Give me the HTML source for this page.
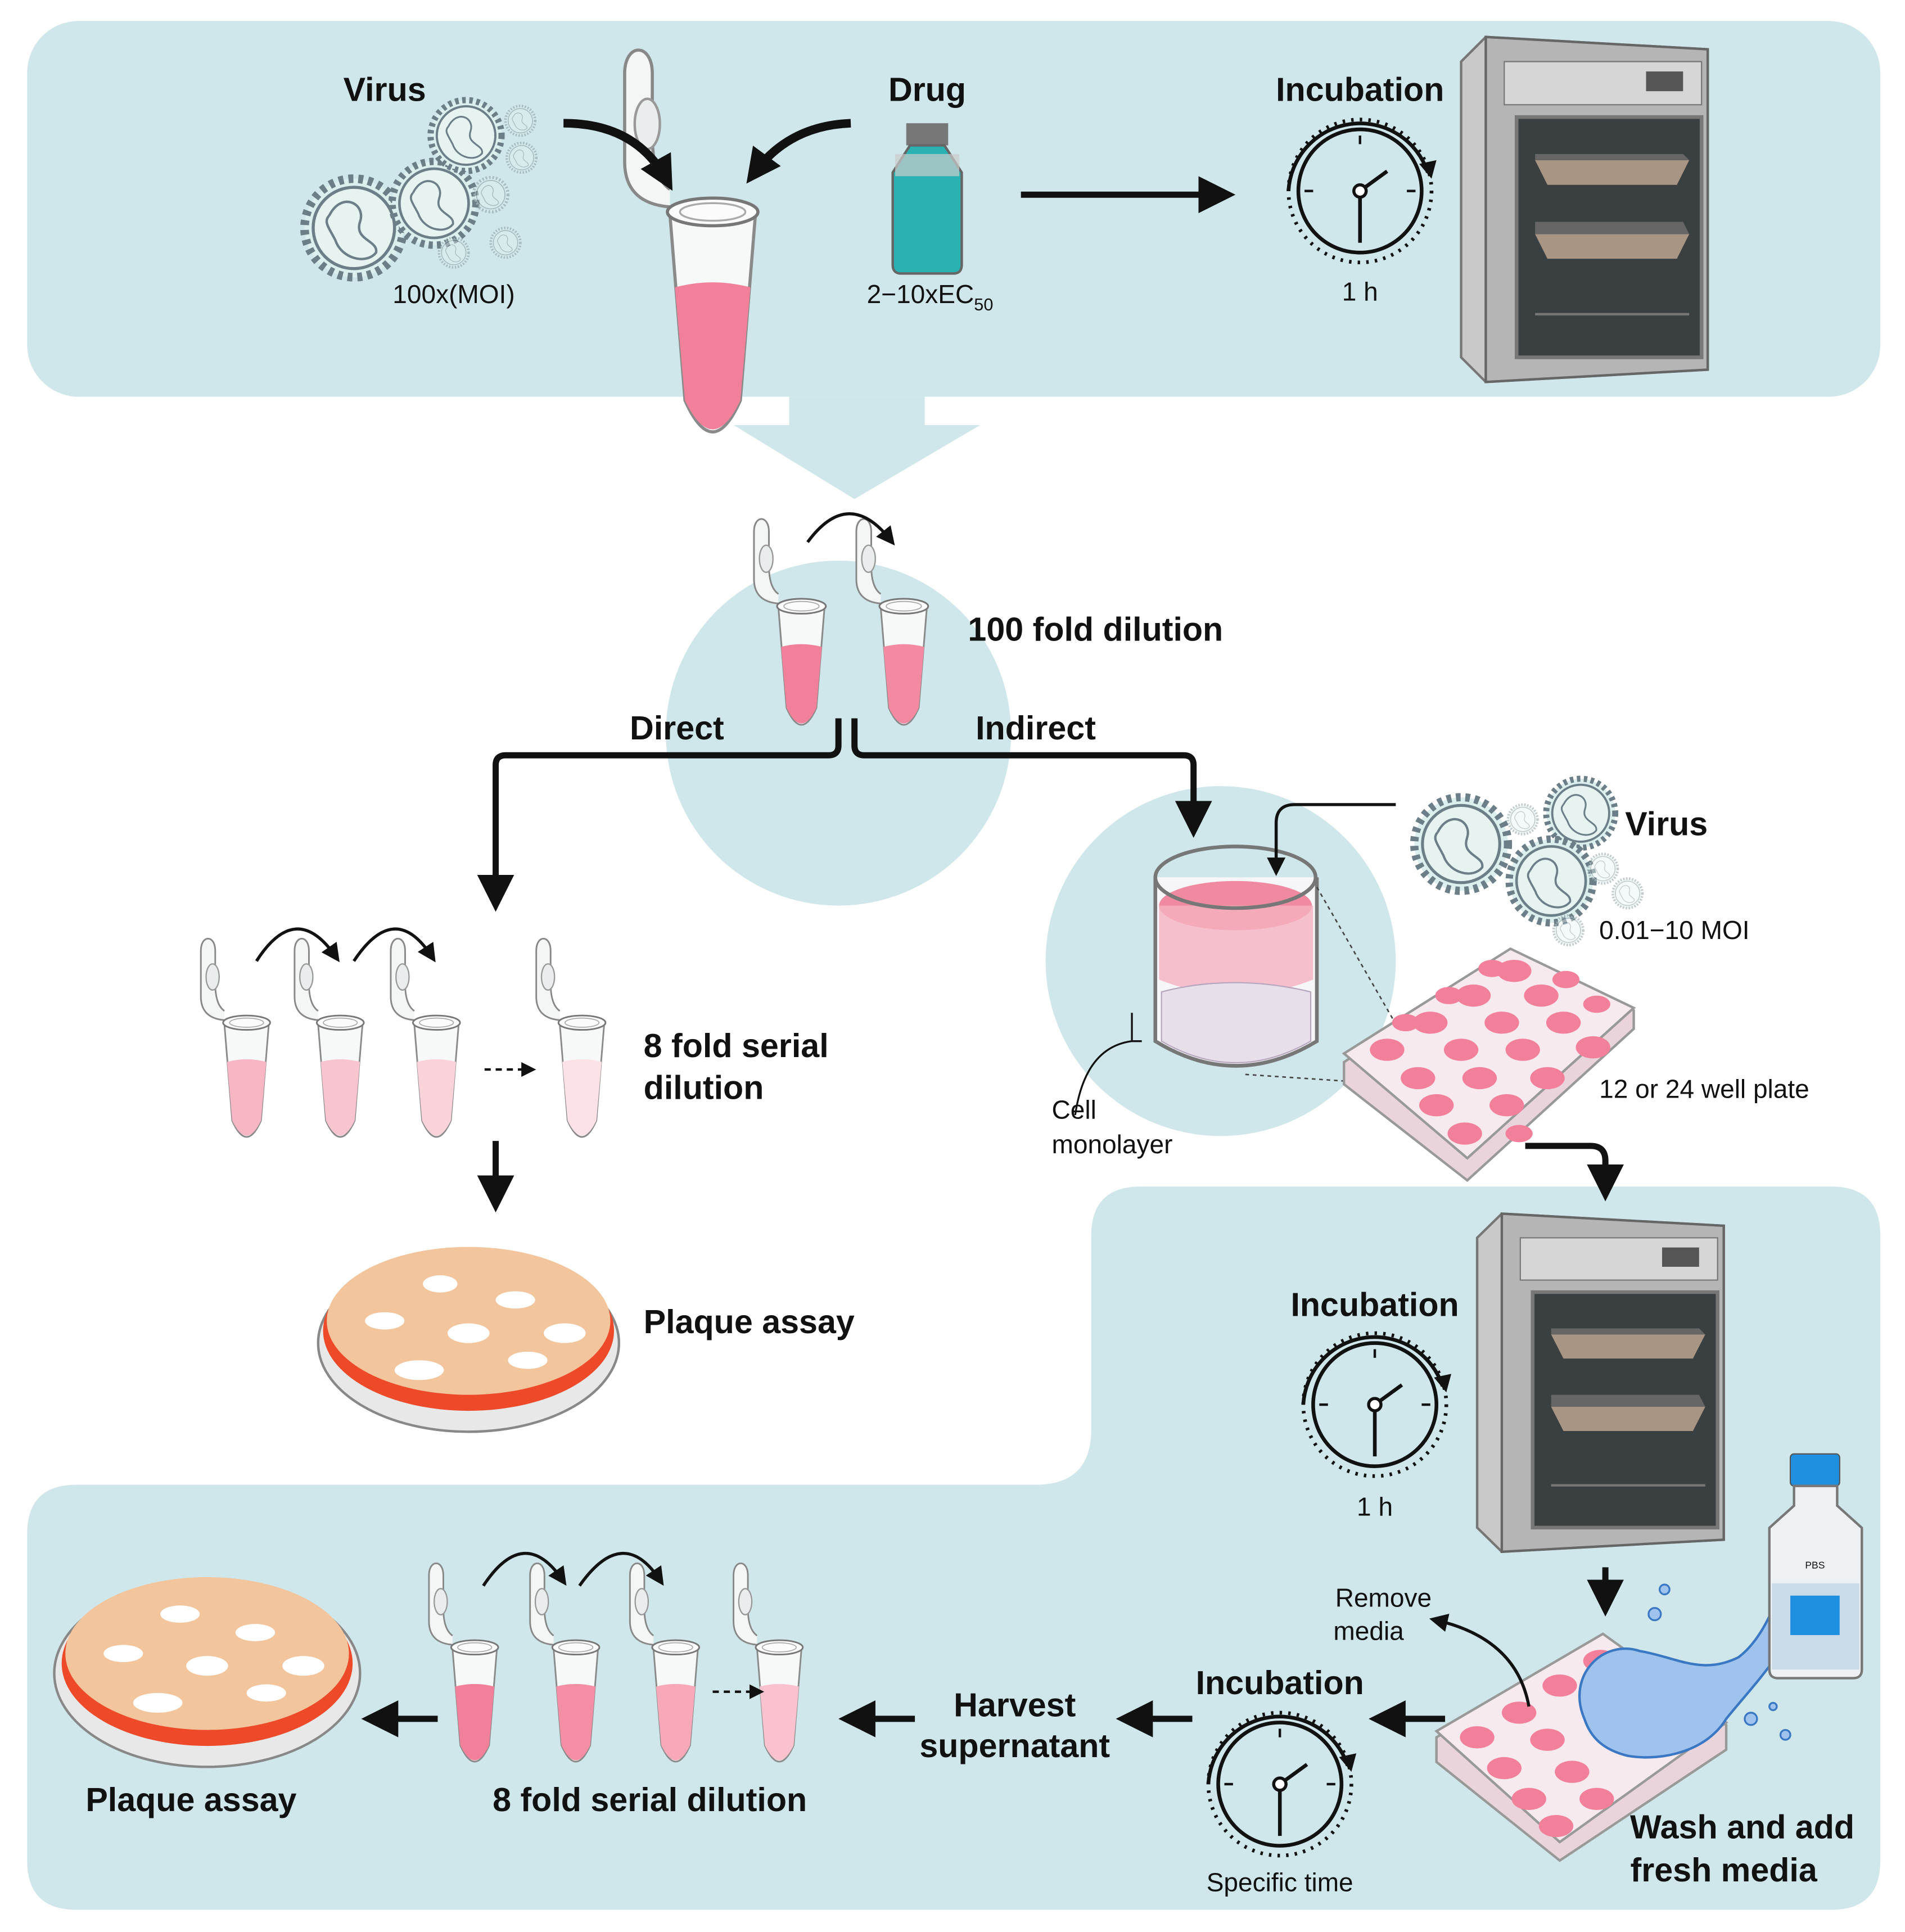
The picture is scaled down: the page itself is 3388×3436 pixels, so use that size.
<!DOCTYPE html>
<html><head><meta charset="utf-8">
<style>
html,body{margin:0;padding:0;background:#fff;}
svg{display:block;}
text{font-family:"Liberation Sans",Arial,sans-serif;fill:#111;}
.b{font-weight:bold;font-size:27px;}
.r{font-size:21px;}
</style></head><body>
<svg width="3388" height="3436" viewBox="0 0 1545 1568" preserveAspectRatio="none" xmlns="http://www.w3.org/2000/svg">
<defs>
<marker id="ah" viewBox="0 0 10 10" refX="6" refY="5" markerWidth="4" markerHeight="4" orient="auto-start-reverse"><path d="M0,0 L10,5 L0,10 z" fill="#111"/></marker>
<marker id="ahs" viewBox="0 0 10 10" refX="6" refY="5" markerWidth="6" markerHeight="6" orient="auto"><path d="M0,0 L10,5 L0,10 z" fill="#111"/></marker>
<g id="tube">
  <path d="M-34,-4 C-60,-6 -70,-20 -70,-40 L-70,-110 C-70,-135 -48,-135 -48,-110 L-48,-60 C-48,-40 -44,-25 -34,-18" fill="#f4f6f6" stroke="#888" stroke-width="2.5"/>
  <ellipse cx="-52" cy="-70" rx="10" ry="20" fill="#e9eded" stroke="#999" stroke-width="2"/>
  <path d="M-34,2 L-22,150 Q0,200 22,150 L34,2 Z" fill="#f7f8f8" stroke="#8a8a8a" stroke-width="2.5"/>
  <path d="M-30,60 Q0,52 30,60 L22,150 Q0,196 -22,150 Z" fill="currentColor"/>
  <ellipse cx="0" cy="0" rx="36" ry="11" fill="#fbfbfb" stroke="#777" stroke-width="2.5"/>
  <ellipse cx="0" cy="0" rx="26" ry="7" fill="none" stroke="#aaa" stroke-width="1.5"/>
</g>
<g id="virus">
  <circle r="40" fill="#dcefee" stroke="#6c7f88" stroke-width="7" stroke-dasharray="4 4"/>
  <circle r="33" fill="#e6f3f1" stroke="#6c7f88" stroke-width="2.5"/>
  <path d="M-20,-10 C-10,-30 10,-20 5,-5 C0,10 20,10 18,20 C10,30 -10,25 -15,10 C-20,0 -25,-5 -20,-10" fill="none" stroke="#6c7f88" stroke-width="2"/>
</g>
<g id="clock">
  <circle r="50" fill="none" stroke="#111" stroke-width="3"/>
  <circle r="58" fill="none" stroke="#111" stroke-width="3" stroke-dasharray="2 5"/>
  <path d="M-58,0 A58,58 0 0 1 55,-15" fill="none" stroke="#111" stroke-width="3"/>
  <path d="M48,-22 L58,-10 L62,-25 z" fill="#111"/>
  <line x1="0" y1="0" x2="0" y2="42" stroke="#111" stroke-width="3"/>
  <line x1="0" y1="0" x2="22" y2="-16" stroke="#111" stroke-width="3"/>
  <circle r="5" fill="#fff" stroke="#111" stroke-width="2.5"/>
  <line x1="0" y1="-45" x2="0" y2="-38" stroke="#111" stroke-width="2"/>
  <line x1="-45" y1="0" x2="-38" y2="0" stroke="#111" stroke-width="2"/>
  <line x1="45" y1="0" x2="38" y2="0" stroke="#111" stroke-width="2"/>
</g>
<g id="incub">
  <path d="M0,20 L20,0 L200,10 L200,270 L20,280 L0,260 Z" fill="#c9c9c9" stroke="#777" stroke-width="2"/>
  <path d="M20,0 L200,10 L200,270 L20,280 Z" fill="#b5b5b5" stroke="#666" stroke-width="2"/>
  <rect x="35" y="20" width="160" height="35" fill="#d6d6d6" stroke="#777"/>
  <rect x="150" y="28" width="30" height="16" fill="#555"/>
  <rect x="45" y="65" width="150" height="195" fill="#3a3f42" stroke="#777" stroke-width="3"/>
  <path d="M60,100 L185,100 L175,120 L70,120 Z" fill="#a89583"/>
  <path d="M60,95 L180,95 L185,100 L60,100 Z" fill="#666"/>
  <path d="M60,160 L185,160 L175,180 L70,180 Z" fill="#a89583"/>
  <path d="M60,150 L180,150 L185,160 L60,160 Z" fill="#666"/>
  <line x1="60" y1="225" x2="185" y2="225" stroke="#777" stroke-width="2"/>
</g>
</defs>

<rect x="22" y="17" width="1503" height="305" rx="42" fill="#cfe7ea"/>
<path d="M640,322 L750,322 L750,345 L795,345 L693,405 L595,345 L640,345 Z" fill="#cfe7ea"/>
<circle cx="680" cy="595" r="140" fill="#cfe7ea"/>
<circle cx="990" cy="780" r="142" fill="#cfe7ea"/>
<path d="M925,963 L1485,963 Q1525,963 1525,1003 L1525,1510 Q1525,1550 1485,1550 L62,1550 Q22,1550 22,1510 L22,1245 Q22,1205 62,1205 L840,1205 Q885,1205 885,1160 L885,1003 Q885,963 925,963 Z" fill="#cfe7ea"/>

<use href="#virus" transform="translate(287,185) scale(1)"/>
<use href="#virus" transform="translate(352,165) scale(0.85)"/>
<use href="#virus" transform="translate(378,110) scale(0.72)"/>
<g opacity="0.4"><use href="#virus" transform="translate(422,98) scale(0.3)"/><use href="#virus" transform="translate(423,128) scale(0.3)"/><use href="#virus" transform="translate(398,158) scale(0.35)"/><use href="#virus" transform="translate(410,197) scale(0.3)"/><use href="#virus" transform="translate(368,205) scale(0.3)"/></g>
<text class="b" x="312" y="82" text-anchor="middle">Virus</text>
<text class="r" x="368" y="246" text-anchor="middle">100x(MOI)</text>

<use href="#tube" transform="translate(578,172) scale(1.02)" style="color:#f3809a"/>

<path d="M457,100 Q515,100 540,145" fill="none" stroke="#111" stroke-width="7" marker-end="url(#ah)"/>
<path d="M690,100 Q640,102 612,140" fill="none" stroke="#111" stroke-width="7" marker-end="url(#ah)"/>

<rect x="735" y="100" width="34" height="18" fill="#777"/>
<path d="M738,118 L766,118 L780,140 L780,215 Q780,222 773,222 L731,222 Q724,222 724,215 L724,140 Z" fill="#2ab2b3" stroke="#666" stroke-width="2"/>
<rect x="726" y="125" width="52" height="18" fill="#ccc" opacity="0.7"/>
<text class="b" x="752" y="82" text-anchor="middle">Drug</text>
<text class="r" x="703" y="246">2−10xEC<tspan font-size="14" dy="6">50</tspan></text>

<line x1="828" y1="158" x2="990" y2="158" stroke="#111" stroke-width="5" marker-end="url(#ahs)"/>
<use href="#clock" transform="translate(1103,155)"/>
<text class="b" x="1103" y="82" text-anchor="middle">Incubation</text>
<text class="r" x="1103" y="244" text-anchor="middle">1 h</text>
<use href="#incub" transform="translate(1185,30)"/>

<use href="#tube" transform="translate(650,492) scale(0.55)" style="color:#f3809a"/>
<use href="#tube" transform="translate(733,492) scale(0.55)" style="color:#f48aa2"/>
<path d="M655,440 Q688,395 722,438" fill="none" stroke="#111" stroke-width="2.5" marker-end="url(#ahs)"/>
<text class="b" x="785" y="520">100 fold dilution</text>
<text class="b" x="549" y="600" text-anchor="middle">Direct</text>
<text class="b" x="840" y="600" text-anchor="middle">Indirect</text>
<path d="M680,583 L680,605 Q680,613 672,613 L410,613 Q402,613 402,621 L402,728" fill="none" stroke="#111" stroke-width="5" marker-end="url(#ahs)"/>
<path d="M693,583 L693,605 Q693,613 701,613 L960,613 Q968,613 968,621 L968,668" fill="none" stroke="#111" stroke-width="5" marker-end="url(#ahs)"/>

<use href="#tube" transform="translate(200,830) scale(0.53)" style="color:#f7b6c4"/>
<use href="#tube" transform="translate(276,830) scale(0.53)" style="color:#f8c4cf"/>
<use href="#tube" transform="translate(354,830) scale(0.53)" style="color:#fad2da"/>
<use href="#tube" transform="translate(472,830) scale(0.53)" style="color:#fce2e7"/>
<path d="M208,780 Q240,730 272,776" fill="none" stroke="#111" stroke-width="2.5" marker-end="url(#ahs)"/>
<path d="M287,780 Q320,730 350,776" fill="none" stroke="#111" stroke-width="2.5" marker-end="url(#ahs)"/>
<line x1="393" y1="868" x2="430" y2="868" stroke="#111" stroke-width="2" stroke-dasharray="5 4" marker-end="url(#ahs)"/>
<text class="b" x="522" y="858">8 fold serial</text>
<text class="b" x="522" y="892">dilution</text>
<line x1="402" y1="926" x2="402" y2="972" stroke="#111" stroke-width="5" marker-end="url(#ahs)"/>

<ellipse cx="380" cy="1090" rx="122" ry="72" fill="#e8e8e8" stroke="#888" stroke-width="2"/>
<ellipse cx="380" cy="1080" rx="118" ry="65" fill="#ee4a2a"/>
<ellipse cx="380" cy="1072" rx="115" ry="60" fill="#f3c59c"/>
<g fill="#fff"><ellipse cx="357" cy="1042" rx="14" ry="7"/><ellipse cx="418" cy="1055" rx="16" ry="7"/><ellipse cx="312" cy="1072" rx="16" ry="7"/><ellipse cx="380" cy="1082" rx="17" ry="8"/><ellipse cx="458" cy="1082" rx="17" ry="8"/><ellipse cx="428" cy="1104" rx="16" ry="7"/><ellipse cx="340" cy="1112" rx="20" ry="8"/></g>
<text class="b" x="522" y="1082">Plaque assay</text>

<path d="M937,712 L937,845 Q1002,885 1068,845 L1068,712" fill="#f6f6f8" stroke="#777" stroke-width="3"/>
<ellipse cx="1002" cy="735" rx="62" ry="20" fill="#f08aa0"/>
<path d="M940,735 L940,795 Q1002,820 1065,795 L1065,735 Z" fill="#f6b2c1" opacity="0.8"/>
<path d="M942,805 Q1000,790 1063,805 L1063,845 Q1002,880 942,845 Z" fill="#e7dfea" stroke="#b5a5bd"/>
<ellipse cx="1002" cy="712" rx="65" ry="25" fill="none" stroke="#777" stroke-width="3"/>
<path d="M1132,653 L1050,653 Q1035,653 1035,668 L1035,705" fill="none" stroke="#111" stroke-width="2.5" marker-end="url(#ahs)"/>
<use href="#virus" transform="translate(1185,685) scale(0.95)"/>
<use href="#virus" transform="translate(1282,660) scale(0.7)"/>
<use href="#virus" transform="translate(1258,715) scale(0.85)"/>
<g opacity="0.4"><use href="#virus" transform="translate(1235,665) scale(0.3)"/><use href="#virus" transform="translate(1300,705) scale(0.3)"/><use href="#virus" transform="translate(1320,725) scale(0.3)"/><use href="#virus" transform="translate(1272,755) scale(0.3)"/></g>
<text class="b" x="1318" y="678">Virus</text>
<text class="r" x="1297" y="762">0.01−10 MOI</text>
<path d="M872,905 Q880,850 918,845 L918,822 M918,845 L926,845" fill="none" stroke="#111" stroke-width="1.5"/>
<text class="r" x="853" y="908" font-size="20">Cell</text>
<text class="r" x="853" y="936" font-size="20">monolayer</text>
<line x1="1068" y1="720" x2="1140" y2="845" stroke="#444" stroke-width="1.2" stroke-dasharray="3 3"/>
<line x1="1010" y1="872" x2="1130" y2="880" stroke="#444" stroke-width="1.2" stroke-dasharray="3 3"/>

<path d="M1090,862 L1225,775 L1325,820 L1325,835 L1190,958 L1090,880 Z" fill="#e9d4dc" stroke="#999" stroke-width="2"/>
<path d="M1090,855 L1225,770 L1325,818 L1190,940 Z" fill="#f6eaee" stroke="#999" stroke-width="2"/>
<g fill="#f3809a">
<ellipse cx="1125" cy="852" rx="14" ry="9"/><ellipse cx="1160" cy="830" rx="14" ry="9"/><ellipse cx="1195" cy="808" rx="14" ry="9"/><ellipse cx="1228" cy="788" rx="14" ry="9"/>
<ellipse cx="1150" cy="875" rx="14" ry="9"/><ellipse cx="1185" cy="852" rx="14" ry="9"/><ellipse cx="1218" cy="830" rx="14" ry="9"/><ellipse cx="1250" cy="808" rx="14" ry="9"/>
<ellipse cx="1165" cy="897" rx="14" ry="9"/><ellipse cx="1200" cy="875" rx="14" ry="9"/><ellipse cx="1235" cy="852" rx="14" ry="9"/><ellipse cx="1268" cy="830" rx="14" ry="9"/>
<ellipse cx="1188" cy="920" rx="14" ry="9"/><ellipse cx="1222" cy="897" rx="14" ry="9"/><ellipse cx="1255" cy="875" rx="14" ry="9"/><ellipse cx="1292" cy="850" rx="14" ry="9"/>
<ellipse cx="1140" cy="830" rx="11" ry="7"/><ellipse cx="1175" cy="808" rx="11" ry="7"/><ellipse cx="1210" cy="786" rx="11" ry="7"/><ellipse cx="1270" cy="795" rx="11" ry="7"/><ellipse cx="1295" cy="815" rx="11" ry="7"/><ellipse cx="1232" cy="920" rx="11" ry="7"/></g>
<text class="r" x="1297" y="891">12 or 24 well plate</text>
<path d="M1237,930 L1290,930 Q1302,930 1302,942 L1302,963" fill="none" stroke="#111" stroke-width="5" marker-end="url(#ahs)"/>

<use href="#incub" transform="translate(1198,985) scale(1,0.98)"/>
<use href="#clock" transform="translate(1115,1140)"/>
<text class="b" x="1115" y="1068" text-anchor="middle">Incubation</text>
<text class="r" x="1115" y="1230" text-anchor="middle">1 h</text>
<line x1="1302" y1="1272" x2="1302" y2="1300" stroke="#111" stroke-width="5" marker-end="url(#ahs)"/>

<path d="M1165,1410 L1300,1330 L1400,1400 L1400,1420 L1265,1510 L1165,1430 Z" fill="#e9d4dc" stroke="#999" stroke-width="2"/>
<path d="M1165,1405 L1300,1326 L1400,1398 L1265,1495 Z" fill="#f6eaee" stroke="#999" stroke-width="2"/>
<g fill="#f3809a">
<ellipse cx="1198" cy="1410" rx="14" ry="9"/><ellipse cx="1232" cy="1390" rx="14" ry="9"/><ellipse cx="1265" cy="1368" rx="14" ry="9"/><ellipse cx="1298" cy="1348" rx="14" ry="9"/>
<ellipse cx="1220" cy="1435" rx="14" ry="9"/><ellipse cx="1255" cy="1412" rx="14" ry="9"/><ellipse cx="1240" cy="1460" rx="14" ry="9"/><ellipse cx="1275" cy="1438" rx="14" ry="9"/><ellipse cx="1262" cy="1482" rx="14" ry="9"/><ellipse cx="1295" cy="1460" rx="14" ry="9"/></g>
<path d="M1285,1395 C1270,1360 1300,1330 1330,1340 C1360,1345 1380,1360 1410,1345 C1430,1330 1440,1300 1445,1290 L1465,1300 C1450,1340 1420,1370 1400,1395 C1385,1420 1350,1430 1320,1425 C1300,1420 1290,1410 1285,1395 Z" fill="#9fc3ec" stroke="#3a78c4" stroke-width="2"/>
<g fill="#9fc3ec" stroke="#3a78c4" stroke-width="1.5"><circle cx="1350" cy="1290" r="4"/><circle cx="1342" cy="1310" r="5"/><circle cx="1420" cy="1395" r="5"/><circle cx="1448" cy="1408" r="4"/><circle cx="1438" cy="1385" r="3"/></g>
<rect x="1452" y="1180" width="40" height="26" rx="3" fill="#1f8fe0" stroke="#555"/>
<path d="M1455,1206 L1490,1206 L1490,1222 L1510,1240 L1510,1355 Q1510,1362 1503,1362 L1442,1362 Q1435,1362 1435,1355 L1435,1240 L1455,1222 Z" fill="#eef1f3" stroke="#777" stroke-width="2"/>
<rect x="1437" y="1285" width="71" height="70" fill="#c9dbe8"/>
<rect x="1452" y="1295" width="40" height="32" fill="#1f8fe0"/>
<text x="1472" y="1273" font-size="8" text-anchor="middle">PBS</text>

<text class="r" x="1122" y="1304" text-anchor="middle">Remove</text>
<text class="r" x="1110" y="1331" text-anchor="middle">media</text>
<path d="M1240,1385 Q1230,1330 1165,1315" fill="none" stroke="#111" stroke-width="2.5" marker-end="url(#ahs)"/>
<text class="b" x="1413" y="1492" text-anchor="middle">Wash and add</text>
<text class="b" x="1398" y="1527" text-anchor="middle">fresh media</text>

<line x1="1172" y1="1395" x2="1122" y2="1395" stroke="#111" stroke-width="5" marker-end="url(#ahs)"/>
<use href="#clock" transform="translate(1038,1448)"/>
<text class="b" x="1038" y="1375" text-anchor="middle">Incubation</text>
<text class="r" x="1038" y="1535" text-anchor="middle">Specific time</text>
<line x1="967" y1="1395" x2="917" y2="1395" stroke="#111" stroke-width="5" marker-end="url(#ahs)"/>
<text class="b" x="823" y="1393" text-anchor="middle">Harvest</text>
<text class="b" x="823" y="1426" text-anchor="middle">supernatant</text>
<line x1="742" y1="1395" x2="692" y2="1395" stroke="#111" stroke-width="5" marker-end="url(#ahs)"/>

<use href="#tube" transform="translate(385,1337) scale(0.53)" style="color:#f3809a"/>
<use href="#tube" transform="translate(467,1337) scale(0.53)" style="color:#f48ea5"/>
<use href="#tube" transform="translate(548,1337) scale(0.53)" style="color:#f7a8b9"/>
<use href="#tube" transform="translate(632,1337) scale(0.53)" style="color:#f9c2ce"/>
<path d="M392,1287 Q425,1237 456,1282" fill="none" stroke="#111" stroke-width="2.5" marker-end="url(#ahs)"/>
<path d="M470,1287 Q505,1237 535,1282" fill="none" stroke="#111" stroke-width="2.5" marker-end="url(#ahs)"/>
<line x1="578" y1="1373" x2="615" y2="1373" stroke="#111" stroke-width="2" stroke-dasharray="5 4" marker-end="url(#ahs)"/>
<text class="b" x="527" y="1470" text-anchor="middle">8 fold serial dilution</text>
<line x1="355" y1="1395" x2="305" y2="1395" stroke="#111" stroke-width="5" marker-end="url(#ahs)"/>

<ellipse cx="168" cy="1358" rx="124" ry="76" fill="#e8e8e8" stroke="#888" stroke-width="2"/>
<ellipse cx="168" cy="1350" rx="118" ry="67" fill="#ee4a2a"/>
<ellipse cx="168" cy="1342" rx="115" ry="62" fill="#f3c59c"/>
<g fill="#fff"><ellipse cx="146" cy="1310" rx="16" ry="7"/><ellipse cx="207" cy="1325" rx="16" ry="7"/><ellipse cx="100" cy="1342" rx="16" ry="7"/><ellipse cx="168" cy="1352" rx="17" ry="8"/><ellipse cx="246" cy="1352" rx="17" ry="8"/><ellipse cx="216" cy="1374" rx="16" ry="7"/><ellipse cx="128" cy="1382" rx="20" ry="8"/></g>
<text class="b" x="155" y="1470" text-anchor="middle">Plaque assay</text>
</svg>
</body></html>
